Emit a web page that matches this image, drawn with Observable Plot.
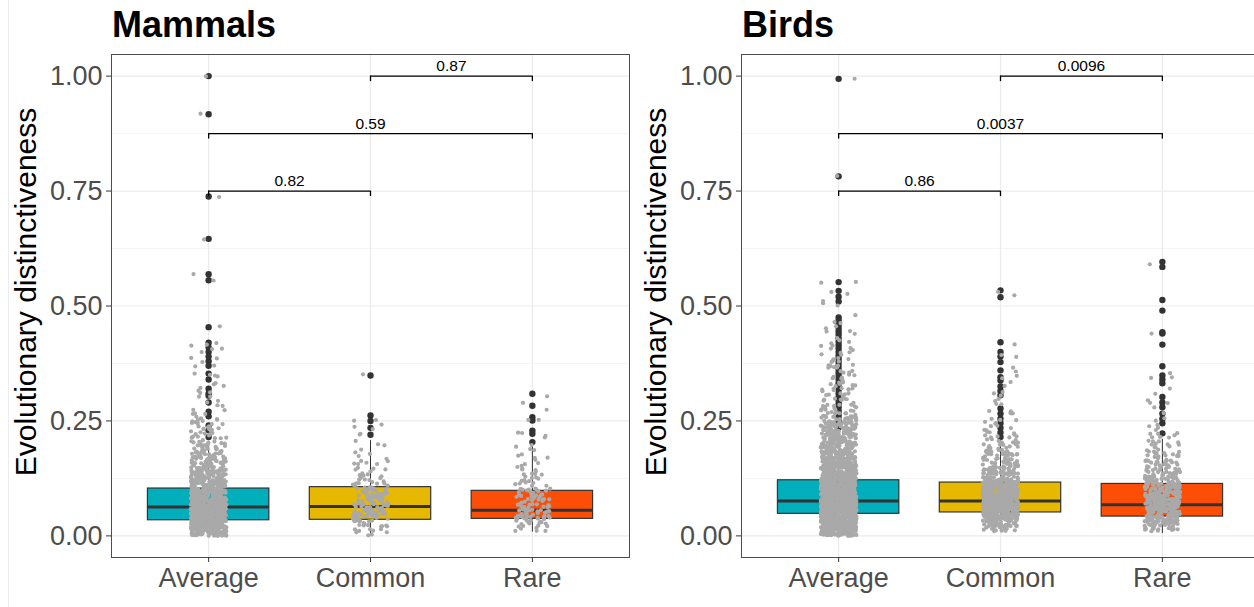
<!DOCTYPE html>
<html>
<head>
<meta charset="utf-8">
<script src="https://cdn.jsdelivr.net/npm/d3@7"></script>
<script src="https://cdn.jsdelivr.net/npm/@observablehq/plot@0.6"></script>
<style>
html,body{margin:0;padding:0;background:#fff;}
#root{position:relative;width:1254px;height:607px;overflow:hidden;font-family:"Liberation Sans",Arial,Helvetica,sans-serif;background:#fff;}
.panel{position:absolute;top:0;width:640px;height:607px;}
.title{position:absolute;left:112px;top:7px;font-size:36px;font-weight:bold;line-height:36px;color:#000;white-space:nowrap;}
.edge{position:absolute;left:8px;top:0;width:1px;height:607px;background:#ececec;}
</style>
</head>
<body>
<div id="root"><div class="edge"></div></div>
<script>
// ---------- categories, ticks, labels ----------
const categories = ["Average", "Common", "Rare"];
const boxFills = ["#00AFBB", "#E7B800", "#FC4E07"];
const yTicks = [0, 0.25, 0.5, 0.75, 1];
const yMinorTicks = [0.125, 0.375, 0.625, 0.875];
const panelTitles = ["Mammals", "Birds"];
const yLabel = "Evolutionary distinctiveness";

// ---------- box statistics (Average, Common, Rare) ----------
const mammalsQ1 = [0.034, 0.035, 0.037];
const mammalsMedian = [0.063, 0.064, 0.056];
const mammalsQ3 = [0.103, 0.106, 0.098];
const mammalsWhiskerLow = [0.0, 0.0, 0.008];
const mammalsWhiskerHigh = [0.205, 0.207, 0.195];

const birdsQ1 = [0.048, 0.051, 0.042];
const birdsMedian = [0.076, 0.076, 0.068];
const birdsQ3 = [0.121, 0.116, 0.113];
const birdsWhiskerLow = [0.0, 0.012, 0.005];
const birdsWhiskerHigh = [0.228, 0.21, 0.21];

// ---------- outliers (dark points) ----------
const mammalsAverageOutliers = [1.0, 0.917, 0.738, 0.646, 0.569, 0.556, 0.454, 0.42, 0.41, 0.40, 0.39, 0.38, 0.37, 0.353, 0.34, 0.32, 0.31, 0.305, 0.29, 0.27, 0.26, 0.24, 0.23, 0.215];
const mammalsCommonOutliers = [0.349, 0.262, 0.25, 0.235, 0.22];
const mammalsRareOutliers = [0.309, 0.283, 0.258, 0.251, 0.229, 0.222, 0.204];

const birdsAverageOutliers = [0.994, 0.782, 0.552, 0.533, 0.52, 0.51, 0.475, 0.468, 0.46, 0.452, 0.445, 0.438, 0.43, 0.422, 0.415, 0.408, 0.4, 0.392, 0.385, 0.378, 0.37, 0.362, 0.355, 0.348, 0.34, 0.332, 0.325, 0.318, 0.31, 0.302, 0.295, 0.288, 0.28, 0.272, 0.265, 0.258, 0.25, 0.243, 0.236];
const birdsCommonOutliers = [0.534, 0.519, 0.421, 0.40, 0.39, 0.378, 0.36, 0.345, 0.338, 0.325, 0.315, 0.306, 0.277, 0.266, 0.255, 0.245, 0.235, 0.225, 0.215];
const birdsRareOutliers = [0.596, 0.585, 0.513, 0.49, 0.443, 0.44, 0.416, 0.369, 0.349, 0.34, 0.332, 0.302, 0.29, 0.28, 0.266, 0.255, 0.245, 0.223];

// ---------- all observations (gray jittered points): [value, number of species] ----------
const mammalsAveragePoints = [[0.005,48],[0.015,58],[0.025,62],[0.035,62],[0.045,62],[0.055,62],[0.065,60],[0.075,58],[0.085,54],[0.095,50],[0.105,44],[0.115,38],[0.125,34],[0.135,30],[0.145,28],[0.155,24],[0.165,20],[0.175,17],[0.185,13],[0.195,11],[0.205,8],[0.215,7],[0.225,7],[0.235,8],[0.245,7],[0.255,6],[0.265,3],[0.275,2],[0.285,2],[0.295,2],[0.305,2],[0.315,3],[0.325,3],[0.335,1],[0.345,2],[0.355,2],[0.365,1],[0.375,2],[0.385,2],[0.395,1],[0.405,2],[0.415,3],[0.455,1],[0.555,1],[0.57,1],[0.645,1],[0.74,1],[0.92,1],[1.0,1]];
const mammalsCommonPoints = [[0.005,4],[0.015,5],[0.025,10],[0.035,13],[0.045,15],[0.055,16],[0.065,17],[0.075,16],[0.085,14],[0.095,13],[0.105,10],[0.115,8],[0.125,6],[0.135,5],[0.145,5],[0.155,4],[0.165,3],[0.175,2],[0.185,2],[0.195,2],[0.205,1],[0.225,2],[0.235,2],[0.245,1],[0.255,2],[0.35,1]];
const mammalsRarePoints = [[0.015,5],[0.025,9],[0.035,13],[0.045,15],[0.055,14],[0.065,13],[0.075,10],[0.085,10],[0.095,9],[0.105,8],[0.115,6],[0.125,5],[0.135,5],[0.145,4],[0.155,3],[0.165,2],[0.175,3],[0.185,2],[0.195,2],[0.215,2],[0.225,2],[0.255,2],[0.275,1],[0.285,1],[0.305,1]];

const birdsAveragePoints = [[0.005,50],[0.015,64],[0.025,68],[0.035,68],[0.045,68],[0.055,68],[0.065,68],[0.075,68],[0.085,68],[0.095,66],[0.105,64],[0.115,62],[0.125,60],[0.135,56],[0.145,52],[0.155,48],[0.165,44],[0.175,41],[0.185,38],[0.195,35],[0.205,32],[0.215,29],[0.225,27],[0.235,25],[0.245,22],[0.255,15],[0.265,11],[0.275,9],[0.285,8],[0.295,7],[0.305,6],[0.315,6],[0.325,6],[0.335,5],[0.345,5],[0.355,5],[0.365,5],[0.375,5],[0.385,4],[0.395,4],[0.405,3],[0.415,3],[0.425,2],[0.435,2],[0.445,2],[0.455,2],[0.465,2],[0.475,1],[0.505,2],[0.515,1],[0.525,1],[0.535,1],[0.55,2],[0.785,1],[0.995,1]];
const birdsCommonPoints = [[0.015,14],[0.025,24],[0.035,38],[0.045,48],[0.055,54],[0.065,56],[0.075,56],[0.085,54],[0.095,48],[0.105,42],[0.115,36],[0.125,30],[0.135,24],[0.145,21],[0.155,18],[0.165,16],[0.175,13],[0.185,12],[0.195,10],[0.205,7],[0.215,6],[0.225,5],[0.235,4],[0.245,3],[0.255,3],[0.265,3],[0.275,2],[0.285,2],[0.295,2],[0.305,2],[0.315,1],[0.325,1],[0.335,1],[0.345,2],[0.355,1],[0.365,1],[0.385,1],[0.395,1],[0.42,1],[0.52,1],[0.535,1]];
const birdsRarePoints = [[0.015,13],[0.025,24],[0.035,34],[0.045,38],[0.055,40],[0.065,40],[0.075,38],[0.085,35],[0.095,32],[0.105,27],[0.115,23],[0.125,19],[0.135,16],[0.145,13],[0.155,12],[0.165,10],[0.175,9],[0.185,8],[0.195,6],[0.205,5],[0.215,4],[0.225,3],[0.235,3],[0.245,1],[0.255,2],[0.265,1],[0.275,1],[0.285,2],[0.295,1],[0.305,1],[0.325,1],[0.345,2],[0.355,1],[0.44,1],[0.595,1]];

// ---------- pairwise comparisons ----------
const comparisonFrom = ["Average", "Average", "Common"];
const comparisonTo = ["Common", "Rare", "Rare"];
const comparisonHeight = [0.75, 0.875, 1.0];
const mammalsPValues = ["0.82", "0.59", "0.87"];
const birdsPValues = ["0.86", "0.0037", "0.0096"];

// ---------- build ----------
const rng = d3.randomLcg(0.4242);
const jitterX = d3.randomUniform.source(rng)(-0.11, 0.11);
const jitterY = d3.randomUniform.source(rng)(-0.005, 0.005);
const pos = c => categories.indexOf(c) + 1;

function makePanel(title, left, stats, outliers, points, pvals) {
  const [q1, med, q3, lo, hi] = stats;
  const boxes = categories.map((c, i) => ({cat: c, i: i + 1, q1: q1[i], med: med[i], q3: q3[i], lo: lo[i], hi: hi[i], fill: boxFills[i]}));
  const outl = [];
  outliers.forEach((arr, i) => arr.forEach(v => outl.push({i: i + 1, v})));
  const jit = [];
  points.forEach((rows, i) => rows.forEach(([v, n]) => {
    for (let k = 0; k < n; k++) jit.push({x: i + 1 + jitterX(), y: Math.max(0, v + jitterY())});
  }));
  const brk = comparisonHeight.map((h, k) => ({x1: pos(comparisonFrom[k]), x2: pos(comparisonTo[k]), y: h, label: pvals[k]}));
  const tip = 0.012;

  const chart = Plot.plot({
    width: 640, height: 607,
    marginTop: 54, marginBottom: 50, marginLeft: 111, marginRight: 11,
    style: {fontFamily: "'Liberation Sans', Arial, Helvetica, sans-serif", background: "transparent", overflow: "visible"},
    x: {type: "linear", domain: [0.4, 3.6]},
    y: {domain: [-0.047, 1.047]},
    marks: [
      Plot.ruleY(yMinorTicks, {stroke: "#f3f3f3", strokeWidth: 0.8}),
      Plot.ruleY(yTicks, {stroke: "#ebebeb", strokeWidth: 1.2}),
      Plot.ruleX([1, 2, 3], {stroke: "#ebebeb", strokeWidth: 1.2}),
      Plot.ruleX(boxes, {x: "i", y1: "q3", y2: "hi", stroke: "#333", strokeWidth: 1}),
      Plot.ruleX(boxes, {x: "i", y1: "lo", y2: "q1", stroke: "#333", strokeWidth: 1}),
      Plot.rect(boxes, {x1: d => d.i - 0.375, x2: d => d.i + 0.375, y1: "q1", y2: "q3", fill: "fill", stroke: "#333", strokeWidth: 1.2}),
      Plot.ruleY(boxes, {x1: d => d.i - 0.375, x2: d => d.i + 0.375, y: "med", stroke: "#333", strokeWidth: 3}),
      Plot.dot(outl, {x: "i", y: "v", r: 3.2, fill: "#333333", stroke: "none"}),
      Plot.dot(jit, {x: "x", y: "y", r: 2.1, fill: "#a9a9a9", stroke: "none"}),
      Plot.ruleY(brk, {x1: "x1", x2: "x2", y: "y", stroke: "#000", strokeWidth: 1.3}),
      Plot.ruleX(brk, {x: "x1", y1: "y", y2: d => d.y - tip, stroke: "#000", strokeWidth: 1.3}),
      Plot.ruleX(brk, {x: "x2", y1: "y", y2: d => d.y - tip, stroke: "#000", strokeWidth: 1.3}),
      Plot.text(brk, {x: d => (d.x1 + d.x2) / 2, y: "y", text: "label", dy: -5, lineAnchor: "bottom", fontSize: 15.5, fill: "#000"}),
      Plot.frame({stroke: "#4d4d4d", strokeWidth: 1}),
      Plot.axisY({ticks: yTicks, tickFormat: d3.format(".2f"), tickSize: 5, tickPadding: 4, fontSize: 27, fill: "#4d4d4d", stroke: "#333", label: null}),
      Plot.axisX({ticks: [1, 2, 3], tickFormat: d => categories[d - 1], tickSize: 5, tickPadding: 5, fontSize: 27, fill: "#4d4d4d", stroke: "#333", label: null}),
      Plot.text([yLabel], {frameAnchor: "left", text: d => d, rotate: -90, dx: -76, dy: -14, lineAnchor: "bottom", textAnchor: "middle", fontSize: 30, fill: "#000"})
    ]
  });

  const panel = document.createElement("div");
  panel.className = "panel";
  panel.style.left = left + "px";
  panel.appendChild(chart);
  const t = document.createElement("div");
  t.className = "title";
  t.textContent = title;
  panel.appendChild(t);
  document.getElementById("root").appendChild(panel);
}

makePanel(panelTitles[0], 0,
  [mammalsQ1, mammalsMedian, mammalsQ3, mammalsWhiskerLow, mammalsWhiskerHigh],
  [mammalsAverageOutliers, mammalsCommonOutliers, mammalsRareOutliers],
  [mammalsAveragePoints, mammalsCommonPoints, mammalsRarePoints],
  mammalsPValues);

makePanel(panelTitles[1], 630,
  [birdsQ1, birdsMedian, birdsQ3, birdsWhiskerLow, birdsWhiskerHigh],
  [birdsAverageOutliers, birdsCommonOutliers, birdsRareOutliers],
  [birdsAveragePoints, birdsCommonPoints, birdsRarePoints],
  birdsPValues);
</script>
</body>
</html>
